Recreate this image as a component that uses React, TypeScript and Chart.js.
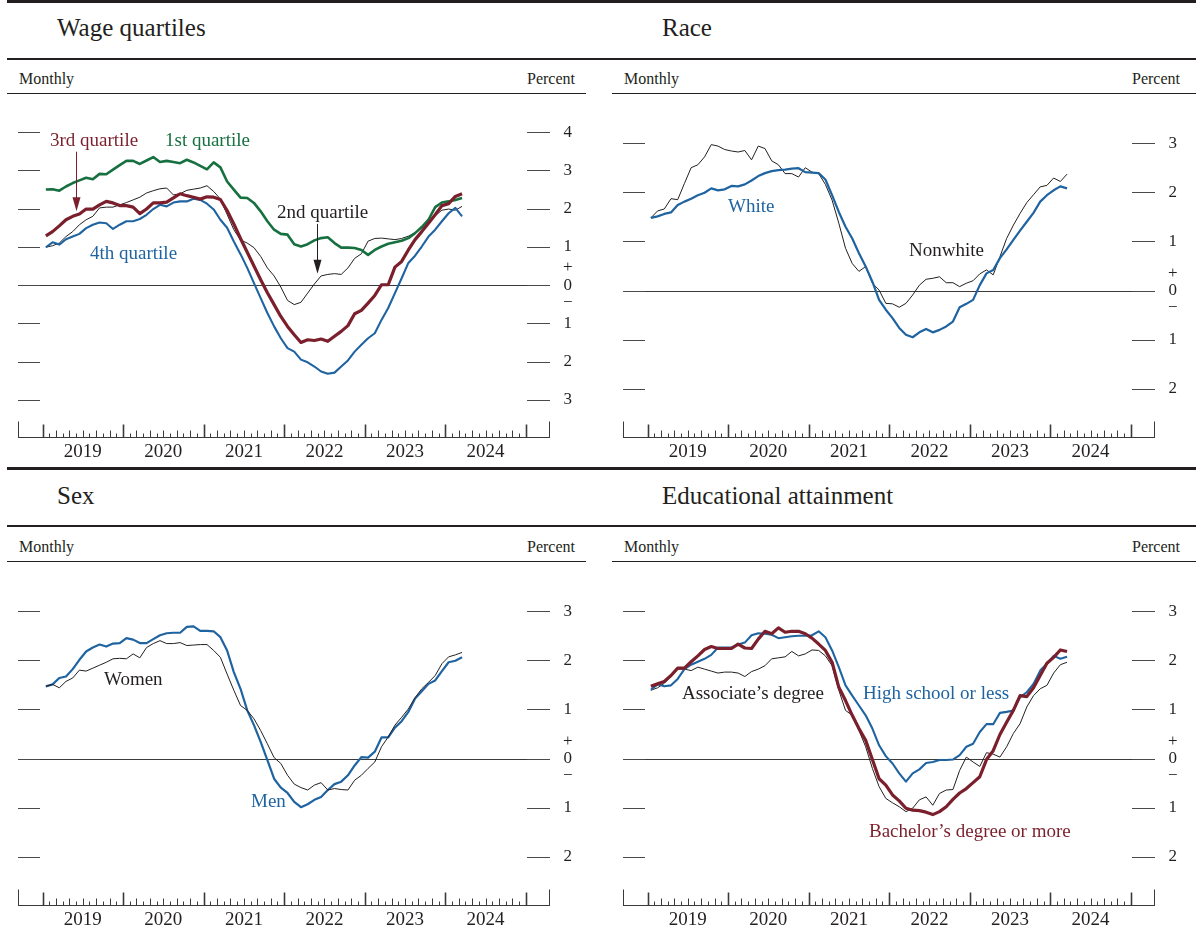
import React, { useEffect, useRef } from 'react';
import { Chart, registerables } from 'chart.js';

Chart.register(...registerables);

const FONT = "'Liberation Serif', 'Times New Roman', Times, serif";
const TEXT = '#231f20';
const GREEN = '#16703f';
const RED = '#7a1f2b';
const BLUE = '#1f64a1';
const BLACK = '#231f20';

// ---------- axis data ----------
const yearLabels = ['2019', '2020', '2021', '2022', '2023', '2024'];
// monthly observations, Jan 2019 .. Mar 2024
const monthLabels: string[] = [];
for (let y = 2019; y <= 2024; y++) {
  for (let m = 1; m <= 12; m++) {
    if (y === 2024 && m > 3) break;
    monthLabels.push(`${y}-${String(m).padStart(2, '0')}`);
  }
}
const wageTicks = [-3, -2, -1, 0, 1, 2, 3, 4];
const smallTicks = [-2, -1, 0, 1, 2, 3];

// ---------- series data (percent) ----------
const wageQ1 = [2.50, 2.51, 2.47, 2.58, 2.67, 2.74, 2.81, 2.77, 2.91, 2.90,
  3.02, 3.14, 3.25, 3.25, 3.17, 3.26, 3.35, 3.22, 3.25, 3.22,
  3.19, 3.28, 3.21, 3.12, 3.03, 3.21, 3.08, 2.71, 2.50, 2.29,
  2.28, 2.15, 1.93, 1.67, 1.45, 1.34, 1.32, 1.07, 1.01, 1.07,
  1.17, 1.23, 1.25, 1.10, 0.98, 0.98, 0.97, 0.92, 0.79, 0.92,
  1.01, 1.08, 1.12, 1.16, 1.23, 1.36, 1.52, 1.71, 2.04, 2.16,
  2.19, 2.23, 2.28];
const wageQ2 = [0.99, 1.03, 1.10, 1.27, 1.40, 1.58, 1.71, 1.80, 2.02, 2.04,
  2.04, 2.10, 2.16, 2.23, 2.30, 2.41, 2.47, 2.52, 2.54, 2.36,
  2.39, 2.48, 2.51, 2.54, 2.60, 2.45, 2.25, 1.85, 1.45, 1.18,
  1.10, 0.98, 0.75, 0.45, 0.24, -0.05, -0.40, -0.51, -0.45, -0.21,
  0.03, 0.24, 0.28, 0.30, 0.28, 0.45, 0.70, 0.82, 1.15, 1.22,
  1.23, 1.21, 1.19, 1.22, 1.28, 1.37, 1.50, 1.67, 1.82, 1.96,
  1.99, 1.96, 2.06];
const wageQ3 = [1.29, 1.40, 1.55, 1.71, 1.80, 1.86, 1.99, 1.99, 2.10, 2.19,
  2.15, 2.08, 2.08, 2.04, 1.87, 1.99, 2.15, 2.15, 2.17, 2.28,
  2.39, 2.34, 2.30, 2.25, 2.31, 2.30, 2.24, 1.95, 1.60, 1.22,
  0.86, 0.50, 0.14, -0.20, -0.51, -0.82, -1.08, -1.30, -1.50, -1.43,
  -1.45, -1.41, -1.47, -1.34, -1.21, -1.06, -0.75, -0.66, -0.47, -0.27,
  0.01, 0.01, 0.47, 0.62, 0.92, 1.19, 1.40, 1.62, 1.84, 2.08,
  2.13, 2.32, 2.39];
const wageQ4 = [0.99, 1.12, 1.06, 1.20, 1.27, 1.34, 1.49, 1.58, 1.64, 1.62,
  1.47, 1.58, 1.67, 1.67, 1.73, 1.84, 1.99, 2.10, 2.06, 2.16,
  2.19, 2.19, 2.26, 2.23, 2.13, 1.98, 1.71, 1.50, 1.14, 0.81,
  0.45, 0.05, -0.34, -0.73, -1.08, -1.39, -1.65, -1.74, -1.95, -2.02,
  -2.13, -2.26, -2.32, -2.29, -2.13, -1.97, -1.74, -1.56, -1.39, -1.26,
  -0.91, -0.60, -0.21, 0.18, 0.58, 0.77, 1.01, 1.27, 1.45, 1.67,
  1.88, 2.02, 1.80];

const raceWhite = [1.48, 1.51, 1.56, 1.59, 1.74, 1.81, 1.87, 1.94, 1.99, 2.08,
  2.04, 2.06, 2.13, 2.12, 2.16, 2.24, 2.33, 2.39, 2.43, 2.45,
  2.46, 2.48, 2.49, 2.41, 2.40, 2.39, 2.26, 1.94, 1.60, 1.30,
  1.06, 0.76, 0.49, 0.18, -0.19, -0.39, -0.56, -0.76, -0.90, -0.95,
  -0.85, -0.78, -0.85, -0.80, -0.73, -0.63, -0.34, -0.27, -0.19, 0.11,
  0.35, 0.42, 0.66, 0.84, 1.03, 1.22, 1.40, 1.58, 1.81, 1.94,
  2.04, 2.12, 2.08];
const raceNonwhite = [1.48, 1.62, 1.66, 1.87, 1.85, 2.18, 2.50, 2.56, 2.72, 2.97,
  2.94, 2.87, 2.84, 2.82, 2.85, 2.66, 2.94, 2.89, 2.64, 2.56,
  2.38, 2.38, 2.31, 2.50, 2.41, 2.38, 2.16, 1.84, 1.37, 0.86,
  0.55, 0.39, 0.49, 0.15, 0.01, -0.26, -0.27, -0.34, -0.26, -0.09,
  0.11, 0.23, 0.25, 0.28, 0.16, 0.16, 0.08, 0.15, 0.20, 0.34,
  0.42, 0.32, 0.69, 1.06, 1.33, 1.57, 1.79, 1.95, 2.11, 2.14,
  2.29, 2.22, 2.37];

const sexMen = [1.47, 1.51, 1.64, 1.67, 1.82, 2.01, 2.18, 2.26, 2.32, 2.28,
  2.34, 2.35, 2.45, 2.42, 2.35, 2.35, 2.43, 2.51, 2.55, 2.56,
  2.56, 2.68, 2.69, 2.60, 2.60, 2.59, 2.47, 2.20, 1.76, 1.42,
  0.98, 0.68, 0.34, -0.03, -0.41, -0.59, -0.70, -0.88, -0.99, -0.93,
  -0.84, -0.78, -0.64, -0.52, -0.47, -0.34, -0.14, 0.03, 0.02, 0.14,
  0.43, 0.43, 0.63, 0.76, 0.95, 1.22, 1.37, 1.52, 1.59, 1.78,
  1.96, 1.99, 2.06];
const sexWomen = [1.47, 1.51, 1.44, 1.57, 1.64, 1.80, 1.78, 1.84, 1.90, 1.96,
  2.03, 2.04, 2.03, 2.13, 2.05, 2.26, 2.34, 2.40, 2.34, 2.34,
  2.36, 2.30, 2.31, 2.32, 2.32, 2.20, 2.06, 1.72, 1.39, 1.08,
  0.98, 0.81, 0.57, 0.30, 0.02, -0.10, -0.34, -0.52, -0.59, -0.64,
  -0.54, -0.49, -0.64, -0.61, -0.63, -0.64, -0.44, -0.34, -0.20, -0.07,
  0.24, 0.44, 0.68, 0.84, 1.01, 1.24, 1.42, 1.55, 1.69, 1.93,
  2.07, 2.11, 2.16];

const eduBachelor = [1.47, 1.52, 1.57, 1.69, 1.84, 1.84, 1.97, 2.09, 2.22, 2.28,
  2.24, 2.24, 2.24, 2.33, 2.25, 2.24, 2.43, 2.59, 2.54, 2.66,
  2.57, 2.59, 2.59, 2.54, 2.45, 2.33, 2.20, 1.96, 1.45, 1.18,
  0.88, 0.61, 0.37, -0.02, -0.41, -0.54, -0.74, -0.86, -1.01, -1.05,
  -1.06, -1.09, -1.14, -1.08, -0.98, -0.83, -0.70, -0.61, -0.49, -0.37,
  -0.02, 0.16, 0.49, 0.74, 0.98, 1.28, 1.26, 1.44, 1.69, 1.94,
  2.06, 2.21, 2.18];
const eduHighSchool = [1.40, 1.51, 1.47, 1.49, 1.62, 1.82, 1.91, 1.97, 2.03, 2.11,
  2.26, 2.26, 2.26, 2.32, 2.36, 2.51, 2.55, 2.54, 2.52, 2.45,
  2.47, 2.49, 2.50, 2.50, 2.51, 2.59, 2.47, 2.20, 1.86, 1.49,
  1.28, 1.08, 0.88, 0.61, 0.27, 0.05, -0.10, -0.30, -0.47, -0.30,
  -0.22, -0.09, -0.07, -0.03, -0.03, -0.02, 0.07, 0.24, 0.30, 0.54,
  0.70, 0.70, 0.93, 0.95, 0.98, 1.25, 1.35, 1.52, 1.79, 1.93,
  2.09, 2.03, 2.07];
const eduAssociate = [1.39, 1.44, 1.53, 1.67, 1.82, 1.82, 1.79, 1.86, 1.82, 1.78,
  1.74, 1.76, 1.76, 1.74, 1.67, 1.77, 1.82, 1.89, 2.03, 2.05,
  2.07, 2.18, 2.09, 2.13, 2.21, 2.20, 2.09, 1.89, 1.39, 0.98,
  0.88, 0.57, 0.24, -0.20, -0.57, -0.81, -0.90, -0.98, -1.08, -1.01,
  -0.84, -0.78, -0.95, -0.71, -0.64, -0.63, -0.24, 0.03, -0.07, -0.16,
  0.12, 0.09, 0.03, 0.24, 0.51, 0.71, 1.05, 1.28, 1.42, 1.49,
  1.74, 1.91, 1.96];

// ---------- geometry ----------
const X_MIN = -3.65; // months relative to Jan 2019
const X_MAX = 75.6;
const CANVAS_W = 600;
const CANVAS_H = 381;
const CANVAS_TOP = 85;

type Series = { data: number[]; color: string; width: number };
type Note = { text: string; left: number; baseline: number; color: string };
type Arrow = { x: number; y1: number; y2: number; color: string };

type PanelProps = {
  ox: number;
  oy: number;
  title: string;
  yMin: number;
  yMax: number;
  yTicks: number[];
  series: Series[];
  notes: Note[];
  arrows?: Arrow[];
};

function Panel({ ox, oy, title, yMin, yMax, yTicks, series, notes, arrows = [] }: PanelProps) {
  const ref = useRef<HTMLCanvasElement>(null);

  useEffect(() => {
    const canvas = ref.current;
    if (!canvas) return;

    const decor = {
      id: 'decor',
      beforeDatasetsDraw(chart: any) {
        const { ctx, chartArea: a } = chart;
        const xs = chart.scales.x;
        const ys = chart.scales.y;
        const line = (x1: number, y1: number, x2: number, y2: number) => {
          ctx.beginPath();
          ctx.moveTo(x1, y1);
          ctx.lineTo(x2, y2);
          ctx.stroke();
        };
        ctx.save();
        ctx.lineWidth = 1;
        // zero line
        const y0 = Math.round(ys.getPixelForValue(0)) + 0.5;
        ctx.strokeStyle = '#3a3a3a';
        line(a.left, y0, a.right, y0);
        // tick dashes on both sides
        ctx.strokeStyle = '#4a4a4a';
        for (const v of yTicks) {
          const py = Math.round(ys.getPixelForValue(v)) + 0.5;
          line(a.left, py, a.left + 22, py);
          line(a.right - 23, py, a.right, py);
        }
        // bottom axis
        ctx.strokeStyle = '#3a3a3a';
        const by = Math.round(a.bottom) - 0.5;
        line(a.left, by, a.right, by);
        line(a.left + 0.5, by, a.left + 0.5, by - 16);
        line(a.right - 0.5, by, a.right - 0.5, by - 16);
        for (let m = 0; m <= yearLabels.length * 12; m++) {
          const px = Math.round(xs.getPixelForValue(m)) + 0.5;
          const major = m % 12 === 0;
          const h = major ? 13 : m % 2 === 0 ? 7 : 4;
          ctx.lineWidth = major ? 1.6 : 1;
          line(px, by, px, by - h);
        }
        ctx.restore();
      },
      afterDatasetsDraw(chart: any) {
        const { ctx } = chart;
        const xs = chart.scales.x;
        const ys = chart.scales.y;
        for (const ar of arrows) {
          const px = Math.round(xs.getPixelForValue(ar.x)) + 0.5;
          const p1 = ys.getPixelForValue(ar.y1);
          const p2 = ys.getPixelForValue(ar.y2);
          ctx.save();
          ctx.strokeStyle = ar.color;
          ctx.fillStyle = ar.color;
          ctx.lineWidth = 1;
          ctx.beginPath();
          ctx.moveTo(px, p1);
          ctx.lineTo(px, p2 - 10);
          ctx.stroke();
          ctx.beginPath();
          ctx.moveTo(px, p2);
          ctx.lineTo(px - 4, p2 - 14);
          ctx.lineTo(px + 4, p2 - 14);
          ctx.closePath();
          ctx.fill();
          ctx.restore();
        }
      },
    };

    const chart = new Chart(canvas, {
      type: 'line',
      data: {
        labels: monthLabels,
        datasets: series.map((s) => ({
          data: s.data.map((v, i) => ({ x: i + 0.5, y: v })),
          borderColor: s.color,
          backgroundColor: s.color,
          borderWidth: s.width,
          pointRadius: 0,
          tension: 0,
          fill: false,
          borderJoinStyle: 'round' as const,
        })),
      },
      options: {
        animation: false,
        responsive: false,
        maintainAspectRatio: false,
        events: [],
        layout: { padding: { left: 18, right: 10, top: 9, bottom: 0 } },
        plugins: { legend: { display: false }, tooltip: { enabled: false } },
        scales: {
          x: {
            type: 'linear',
            position: 'bottom',
            min: X_MIN,
            max: X_MAX,
            grid: { display: false, drawTicks: false },
            border: { display: false },
            afterBuildTicks: (s: any) => {
              s.ticks = yearLabels.map((_, k) => ({ value: 12 * k + 6 }));
            },
            afterFit: (s: any) => {
              s.height = 28;
              s.paddingLeft = 0;
              s.paddingRight = 0;
            },
            ticks: {
              autoSkip: false,
              maxRotation: 0,
              minRotation: 0,
              padding: 3,
              color: TEXT,
              font: { family: FONT, size: 19 },
              callback: (_v: any, idx: number) => yearLabels[idx],
            },
          },
          y: {
            type: 'linear',
            position: 'right',
            min: yMin,
            max: yMax,
            grid: { display: false, drawTicks: false },
            border: { display: false },
            afterBuildTicks: (s: any) => {
              s.ticks = yTicks.map((v) => ({ value: v }));
            },
            afterFit: (s: any) => {
              s.width = 40;
              s.paddingTop = 0;
              s.paddingBottom = 0;
            },
            ticks: {
              autoSkip: false,
              padding: 13,
              crossAlign: 'center',
              color: TEXT,
              font: { family: FONT, size: 17, lineHeight: 1.02 },
              callback: (v: any) => (Number(v) === 0 ? ['+', '0', '\u2212'] : String(Math.abs(Number(v)))),
            },
          },
        },
      } as any,
      plugins: [decor],
    });
    return () => chart.destroy();
  }, []);

  const textAt = (n: Note, size: number, key: string | number) => (
    <div
      key={key}
      style={{
        position: 'absolute',
        left: n.left,
        top: n.baseline - 0.8375 * size,
        fontSize: size,
        lineHeight: `${size}px`,
        color: n.color,
        whiteSpace: 'nowrap',
      }}
    >
      {n.text}
    </div>
  );

  return (
    <div style={{ position: 'absolute', left: ox, top: oy, width: 600, height: 466 }}>
      {textAt({ text: title, left: 57, baseline: 36, color: TEXT }, 25, 't')}
      {textAt({ text: 'Monthly', left: 19, baseline: 84, color: TEXT }, 16, 'm')}
      <div
        style={{
          position: 'absolute',
          left: 0,
          width: 575,
          top: 84 - 0.8375 * 16,
          fontSize: 16,
          lineHeight: '16px',
          textAlign: 'right',
          color: TEXT,
        }}
      >
        Percent
      </div>
      <canvas
        ref={ref}
        width={CANVAS_W}
        height={CANVAS_H}
        style={{ position: 'absolute', left: 0, top: CANVAS_TOP, width: CANVAS_W, height: CANVAS_H }}
      />
      {notes.map((n, i) => textAt(n, 19, i))}
    </div>
  );
}

const Rule = ({ x1, x2, y, h }: { x1: number; x2: number; y: number; h: number }) => (
  <div style={{ position: 'absolute', left: x1, width: x2 - x1, top: y, height: h, background: BLACK }} />
);

export default function App() {
  return (
    <div
      style={{
        position: 'absolute',
        left: 0,
        top: 0,
        width: 1196,
        height: 932,
        background: '#ffffff',
        overflow: 'hidden',
        fontFamily: FONT,
        color: TEXT,
      }}
    >
      <Rule x1={7} x2={1196} y={0} h={3} />
      <Rule x1={7} x2={1196} y={58} h={2} />
      <Rule x1={7} x2={586} y={93} h={1} />
      <Rule x1={612} x2={1196} y={93} h={1} />
      <Rule x1={7} x2={1196} y={467} h={3} />
      <Rule x1={7} x2={1196} y={525} h={2} />
      <Rule x1={7} x2={586} y={561} h={1} />
      <Rule x1={612} x2={1196} y={561} h={1} />

      <Panel
        ox={0}
        oy={0}
        title="Wage quartiles"
        yMin={-4}
        yMax={5}
        yTicks={wageTicks}
        series={[
          { data: wageQ3, color: RED, width: 3.2 },
          { data: wageQ1, color: GREEN, width: 2.6 },
          { data: wageQ4, color: BLUE, width: 2.1 },
          { data: wageQ2, color: BLACK, width: 1 },
        ]}
        notes={[
          { text: '3rd quartile', left: 50, baseline: 145.5, color: RED },
          { text: '1st quartile', left: 165, baseline: 145.5, color: GREEN },
          { text: '2nd quartile', left: 277, baseline: 218.3, color: BLACK },
          { text: '4th quartile', left: 90, baseline: 259.3, color: BLUE },
        ]}
        arrows={[
          { x: 5.0, y1: 3.49, y2: 1.93, color: RED },
          { x: 40.86, y1: 1.6, y2: 0.3, color: BLACK },
        ]}
      />
      <Panel
        ox={605}
        oy={0}
        title="Race"
        yMin={-3}
        yMax={4}
        yTicks={smallTicks}
        series={[
          { data: raceWhite, color: BLUE, width: 2.2 },
          { data: raceNonwhite, color: BLACK, width: 1 },
        ]}
        notes={[
          { text: 'White', left: 123, baseline: 211.7, color: BLUE },
          { text: 'Nonwhite', left: 304, baseline: 256, color: BLACK },
        ]}
      />
      <Panel
        ox={0}
        oy={468}
        title="Sex"
        yMin={-3}
        yMax={4}
        yTicks={smallTicks}
        series={[
          { data: sexWomen, color: BLACK, width: 1 },
          { data: sexMen, color: BLUE, width: 2.2 },
        ]}
        notes={[
          { text: 'Women', left: 104, baseline: 217.3, color: BLACK },
          { text: 'Men', left: 251, baseline: 338.7, color: BLUE },
        ]}
      />
      <Panel
        ox={605}
        oy={468}
        title="Educational attainment"
        yMin={-3}
        yMax={4}
        yTicks={smallTicks}
        series={[
          { data: eduBachelor, color: RED, width: 3.2 },
          { data: eduHighSchool, color: BLUE, width: 2.1 },
          { data: eduAssociate, color: BLACK, width: 1 },
        ]}
        notes={[
          { text: 'Associate\u2019s degree', left: 77, baseline: 231.3, color: BLACK },
          { text: 'High school or less', left: 258, baseline: 231.3, color: BLUE },
          { text: 'Bachelor\u2019s degree or more', left: 264, baseline: 368.7, color: RED },
        ]}
      />
    </div>
  );
}
